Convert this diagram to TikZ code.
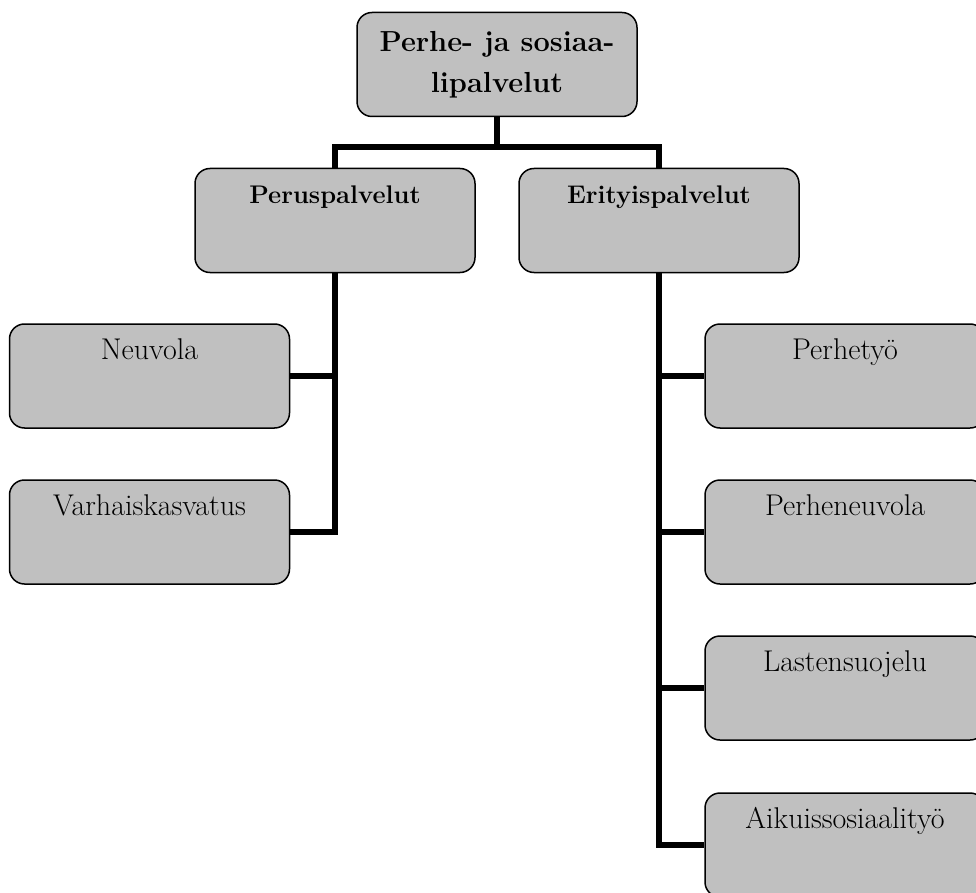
\documentclass[tikz,border=0pt]{standalone}
\definecolor{boxgray}{HTML}{C0C0C0}
\begin{document}
\begin{tikzpicture}[x=1pt,y=-1pt,
  box/.style={draw=black, line width=1.5pt, fill=boxgray, rounded corners=15pt,
    minimum width=280pt, inner xsep=0pt, inner ysep=0pt,
    text height=35pt, text depth=69pt, font=\fontsize{30}{34}\selectfont},
  head/.style={box, font=\fontsize{25.5}{30}\selectfont\bfseries},
  conn/.style={line width=6pt}]
\clip (0,0) rectangle (976,893);
\fill[white] (0,0) rectangle (976,893);
\coordinate (hub) at (497,147);
\node[box, text height=, text depth=, minimum height=104pt, align=center,
  font=\fontsize{29}{41}\selectfont\bfseries] (top) at (497,64.5) {Perhe- ja sosiaa-\\lipalvelut};
\node[head] (perus) at (335,220.5) {Peruspalvelut};
\node[head] (erity) at (659,220.5) {Erityispalvelut};
\node[box] (neuvola) at (149.5,376) {Neuvola};
\node[box] (varh) at (149.5,532) {Varhaiskasvatus};
\node[box] (perhetyo) at (845,376) {Perhetyö};
\node[box] (perheneuvola) at (845,532) {Perheneuvola};
\node[box] (lasten) at (845,688) {Lastensuojelu};
\node[box] (aikuis) at (845,845) {Aikuissosiaalityö};
\draw[conn] (top.south) -- (hub);
\draw[conn] (perus.north) |- (hub) -| (erity.north);
\draw[conn] (perus.south) |- (varh.east);
\draw[conn] (perus.south |- neuvola.east) -- (neuvola.east);
\draw[conn] (erity.south) |- (aikuis.west);
\draw[conn] (erity.south |- perhetyo.west) -- (perhetyo.west);
\draw[conn] (erity.south |- perheneuvola.west) -- (perheneuvola.west);
\draw[conn] (erity.south |- lasten.west) -- (lasten.west);
\end{tikzpicture}
\end{document}
